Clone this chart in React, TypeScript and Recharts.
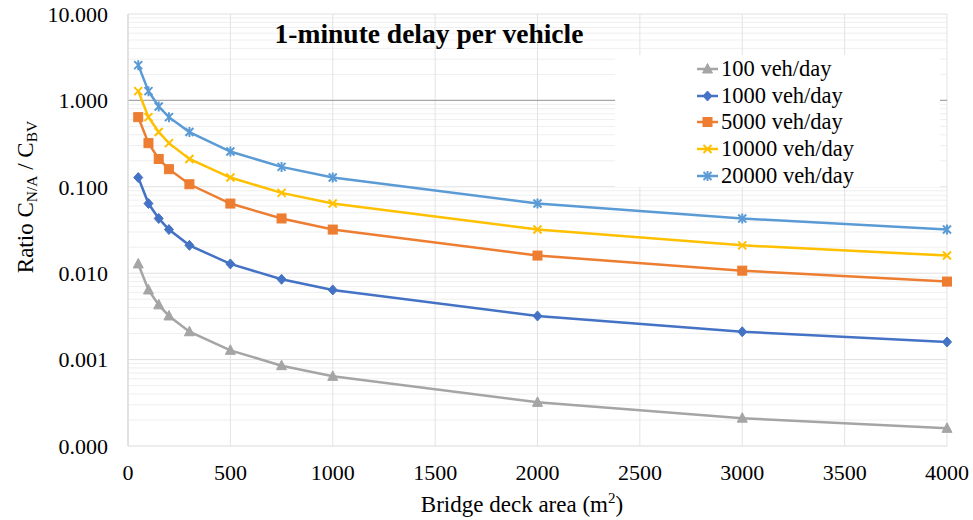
import React from 'react';
import {
  LineChart,
  Line,
  XAxis,
  YAxis,
  CartesianGrid,
  ReferenceLine,
  Legend,
} from 'recharts';

// ---- data ----
const areas = [50, 100, 150, 200, 300, 500, 750, 1000, 2000, 3000, 4000];
const veh100 = [0.0128, 0.0064, 0.0043, 0.0032, 0.0021, 0.00128, 0.00085, 0.00064, 0.00032, 0.00021, 0.00016];
const veh1000 = [0.128, 0.064, 0.043, 0.032, 0.021, 0.0128, 0.0085, 0.0064, 0.0032, 0.0021, 0.0016];
const veh5000 = [0.64, 0.32, 0.21, 0.16, 0.107, 0.064, 0.043, 0.032, 0.016, 0.0107, 0.008];
const veh10000 = [1.28, 0.64, 0.43, 0.32, 0.21, 0.128, 0.085, 0.064, 0.032, 0.021, 0.016];
const veh20000 = [2.56, 1.28, 0.85, 0.64, 0.43, 0.256, 0.17, 0.128, 0.064, 0.043, 0.032];

const seriesNames = ['100 veh/day', '1000 veh/day', '5000 veh/day', '10000 veh/day', '20000 veh/day'];
const xTicks = [0, 500, 1000, 1500, 2000, 2500, 3000, 3500, 4000];
const yTicks = [0.0001, 0.001, 0.01, 0.1, 1, 10];
const yMajorGrid = [0.001, 0.01, 0.1, 10];
const yMinorGrid = [
  0.0002, 0.0003, 0.0004, 0.0005, 0.0006, 0.0007, 0.0008, 0.0009,
  0.002, 0.003, 0.004, 0.005, 0.006, 0.007, 0.008, 0.009,
  0.02, 0.03, 0.04, 0.05, 0.06, 0.07, 0.08, 0.09,
  0.2, 0.3, 0.4, 0.5, 0.6, 0.7, 0.8, 0.9,
  2, 3, 4, 5, 6, 7, 8, 9,
];
const titleText = '1-minute delay per vehicle';

const data = areas.map((a, i) => ({
  area: a,
  s100: veh100[i],
  s1000: veh1000[i],
  s5000: veh5000[i],
  s10000: veh10000[i],
  s20000: veh20000[i],
}));

const FONT = '"Liberation Serif", "Times New Roman", serif';

type Shape = 'triangle' | 'diamond' | 'square' | 'x' | 'star';

const series: { key: string; name: string; color: string; shape: Shape }[] = [
  { key: 's100', name: seriesNames[0], color: '#a5a5a5', shape: 'triangle' },
  { key: 's1000', name: seriesNames[1], color: '#4472c4', shape: 'diamond' },
  { key: 's5000', name: seriesNames[2], color: '#ed7d31', shape: 'square' },
  { key: 's10000', name: seriesNames[3], color: '#ffc000', shape: 'x' },
  { key: 's20000', name: seriesNames[4], color: '#5b9bd5', shape: 'star' },
];

function Marker({ cx, cy, shape, color }: { cx: number; cy: number; shape: Shape; color: string }) {
  if (cx == null || cy == null || isNaN(cx) || isNaN(cy)) return null;
  switch (shape) {
    case 'triangle':
      return <polygon points={`${cx},${cy - 5.5} ${cx + 5},${cy + 4} ${cx - 5},${cy + 4}`} fill={color} stroke={color} strokeWidth={1} />;
    case 'diamond':
      return <polygon points={`${cx},${cy - 5} ${cx + 4.5},${cy} ${cx},${cy + 5} ${cx - 4.5},${cy}`} fill={color} stroke={color} strokeWidth={1} />;
    case 'square':
      return <rect x={cx - 4.5} y={cy - 4.5} width={9} height={9} fill={color} stroke={color} strokeWidth={1} />;
    case 'x':
      return (
        <g stroke={color} strokeWidth={2}>
          <line x1={cx - 4} y1={cy - 4} x2={cx + 4} y2={cy + 4} />
          <line x1={cx - 4} y1={cy + 4} x2={cx + 4} y2={cy - 4} />
        </g>
      );
    case 'star':
      return (
        <g stroke={color} strokeWidth={2}>
          <line x1={cx - 4} y1={cy - 4} x2={cx + 4} y2={cy + 4} />
          <line x1={cx - 4} y1={cy + 4} x2={cx + 4} y2={cy - 4} />
          <line x1={cx} y1={cy - 5} x2={cx} y2={cy + 5} />
        </g>
      );
  }
  return null;
}

const LegendBox = () => (
  <div
    style={{
      width: 325,
      height: 132,
      background: '#ffffff',
      boxSizing: 'border-box',
      paddingLeft: 82,
      paddingTop: 1,
      fontFamily: FONT,
      fontSize: 22.5,
      color: '#000',
    }}
  >
    {series.map((s) => (
      <div key={s.key} style={{ display: 'flex', alignItems: 'center', height: 26.6, whiteSpace: 'nowrap' }}>
        <svg width={24} height={14} style={{ display: 'block', flex: 'none' }}>
          <line x1={0} y1={7} x2={21} y2={7} stroke={s.color} strokeWidth={2.5} />
          <Marker cx={10.5} cy={7} shape={s.shape} color={s.color} />
        </svg>
        <span style={{ lineHeight: '26px' }}>{s.name}</span>
      </div>
    ))}
  </div>
);

const YTitle = () => (
  <text
    transform="translate(33,197) rotate(-90)"
    textAnchor="middle"
    fontFamily={FONT}
    fontSize={23}
    fill="#000"
  >
    Ratio C
    <tspan fontSize={15.5} dy={4}>N/A</tspan>
    <tspan dy={-4}> / C</tspan>
    <tspan fontSize={15.5} dy={4}>BV</tspan>
  </text>
);

const XTitle = () => (
  <text x={522} y={512} textAnchor="middle" fontFamily={FONT} fontSize={23} fill="#000">
    Bridge deck area (m
    <tspan fontSize={15} dy={-9}>2</tspan>
    <tspan dy={9}>)</tspan>
  </text>
);

export default function App() {
  return (
    <div style={{ position: 'absolute', left: 0, top: 0, width: 973, height: 520, background: '#fff' }}>
      <LineChart
        width={973}
        height={520}
        data={data}
        margin={{ top: 14, right: 26, bottom: 0, left: 0 }}
      >
        <CartesianGrid
          vertical={false}
          horizontalValues={yMinorGrid}
          stroke="#efefef"
          strokeWidth={1}
        />
        <CartesianGrid
          horizontal={false}
          verticalValues={xTicks}
          stroke="#e3e3e3"
          strokeWidth={1}
        />
        {yMajorGrid.map((v) => (
          <ReferenceLine key={v} y={v} stroke="#e0e0e0" strokeWidth={1} ifOverflow="extendDomain" />
        ))}
        <ReferenceLine y={1} stroke="#a6a6a6" strokeWidth={1.2} />
        <XAxis
          type="number"
          dataKey="area"
          domain={[0, 4000]}
          ticks={xTicks}
          interval={0}
          height={74}
          tickSize={0}
          tickMargin={18}
          axisLine={{ stroke: '#d9d9d9', strokeWidth: 1.2 }}
          tickLine={false}
          tick={{ fill: '#000', fontFamily: FONT, fontSize: 22 }}
          label={<XTitle />}
        />
        <YAxis
          type="number"
          scale="log"
          domain={[0.0001, 10]}
          ticks={yTicks}
          interval={0}
          allowDataOverflow
          width={128}
          tickSize={0}
          tickMargin={20}
          axisLine={{ stroke: '#d9d9d9', strokeWidth: 1.2 }}
          tickLine={false}
          tick={{ fill: '#000', fontFamily: FONT, fontSize: 22 }}
          tickFormatter={(v: number) => v.toFixed(3)}
          label={<YTitle />}
        />
        {series.map((s) => (
          <Line
            key={s.key}
            type="linear"
            dataKey={s.key}
            name={s.name}
            stroke={s.color}
            strokeWidth={2.5}
            isAnimationActive={false}
            dot={(p: any) => (
              <Marker key={`${s.key}-${p.index}`} cx={p.cx} cy={p.cy} shape={s.shape} color={s.color} />
            )}
            activeDot={false}
          />
        ))}
        <Legend
          layout="vertical"
          align="center"
          verticalAlign="middle"
          content={<LegendBox />}
          wrapperStyle={{ left: 615, top: 55, width: 325, height: 132 }}
        />
      </LineChart>
      <div
        style={{
          position: 'absolute',
          left: 429,
          top: 16,
          transform: 'translateX(-50%)',
          fontFamily: FONT,
          fontWeight: 'bold',
          fontSize: 27.5,
          lineHeight: '36px',
          whiteSpace: 'nowrap',
          color: '#000',
          pointerEvents: 'none',
        }}
      >
        {titleText}
      </div>
    </div>
  );
}
